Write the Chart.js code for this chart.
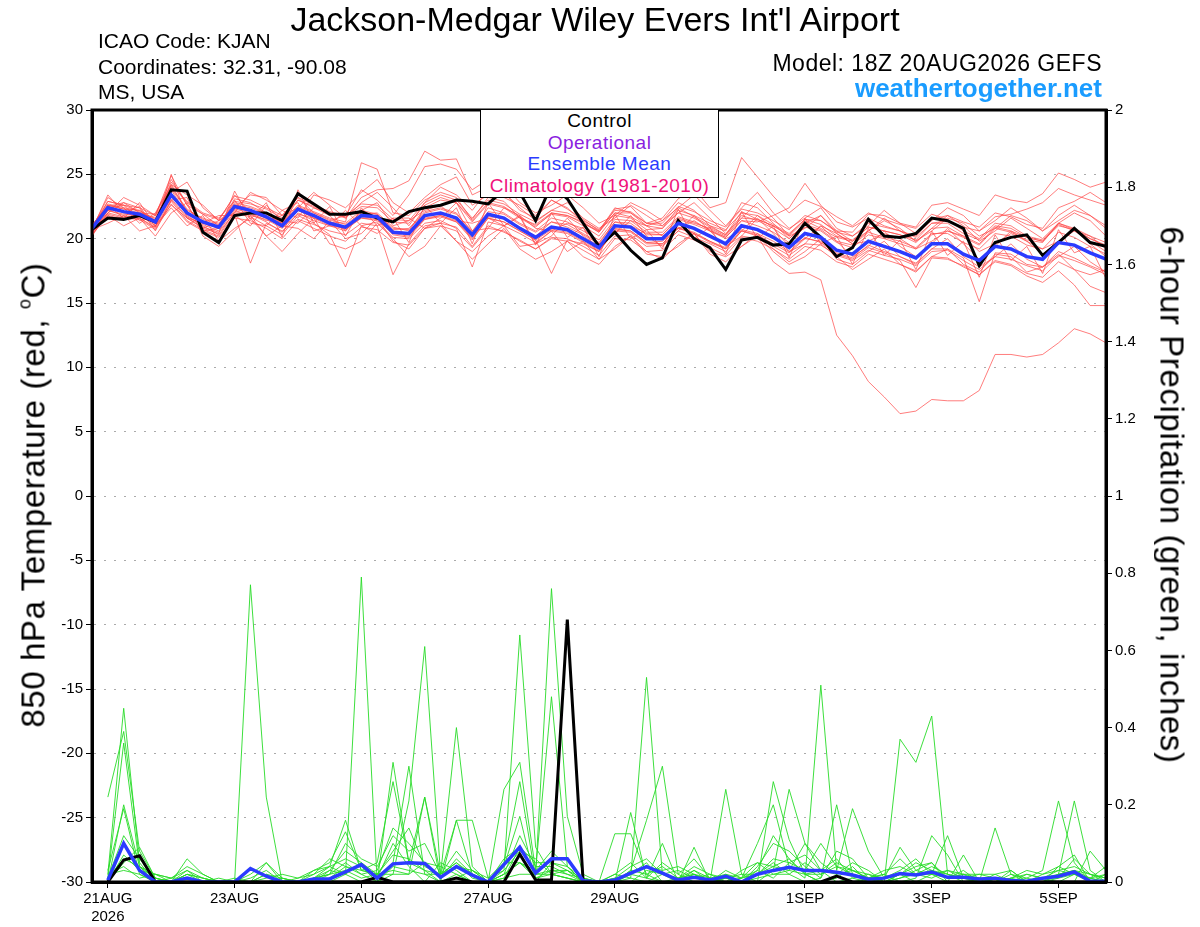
<!DOCTYPE html>
<html>
<head>
<meta charset="utf-8">
<script src="https://cdn.jsdelivr.net/npm/chart.js@4.4.0/dist/chart.umd.min.js"></script>
<style>
  body { margin: 0; background: #fff; font-family: "Liberation Sans", Arial, sans-serif; }
  #wrap { position: relative; width: 1200px; height: 927px; overflow: hidden; }
  #c { position: absolute; left: 0; top: 0; }
  .t { position: absolute; white-space: nowrap; color: #000; line-height: 1; }
  #title { left: 0; width: 1190px; top: 2px; text-align: center; font-size: 34px; }
  .info { left: 98px; font-size: 21px; }
  .rinfo { right: 98px; text-align: right; }
  #legend { position: absolute; left: 480px; top: 109px; width: 237px; height: 87px;
            background: #fff; border: 1.5px solid #000; text-align: center;
            font-size: 19px; line-height: 21.5px; letter-spacing: 0.5px; }
  .ytitle { position: absolute; white-space: nowrap; font-size: 33px; line-height: 1; letter-spacing: 0.6px; }
  .ytitle sup { font-size: 18px; vertical-align: 14px; line-height: 0; }
</style>
</head>
<body>
<div id="wrap">
  <canvas id="c" width="1200" height="927"></canvas>
  <div class="t" id="title">Jackson-Medgar Wiley Evers Int'l Airport</div>
  <div class="t info" style="top:30px">ICAO Code: KJAN</div>
  <div class="t info" style="top:56px">Coordinates: 32.31, -90.08</div>
  <div class="t info" style="top:81px">MS, USA</div>
  <div class="t rinfo" style="top:52px;font-size:23px;letter-spacing:0.5px">Model: 18Z 20AUG2026 GEFS</div>
  <div class="t rinfo" style="top:75px;font-size:26px;font-weight:bold;color:#1a9cff">weathertogether.net</div>
  <div id="legend">
    <div style="color:#000">Control</div>
    <div style="color:#8a1ee0">Operational</div>
    <div style="color:#2b3bff">Ensemble Mean</div>
    <div style="color:#f0127a">Climatology (1981-2010)</div>
  </div>
  <div class="ytitle" style="left:33px;top:495px;transform:translate(-50%,-50%) rotate(-90deg)">850 hPa Temperature (red, <sup>o</sup>C)</div>
  <div class="ytitle" style="left:1172px;top:495px;transform:translate(-50%,-50%) rotate(90deg)">6-hour Precipitation (green, inches)</div>
</div>
<script>
// forecast hours from 18Z 20AUG2026, one value every 6 h
const tickHours = [6, 54, 102, 150, 198, 270, 318, 366];
const tickLabels = ['21AUG', '23AUG', '25AUG', '27AUG', '29AUG', '1SEP', '3SEP', '5SEP'];

// 850 hPa temperature (C)
const tempControl = [20.7, 21.6, 21.5, 21.8, 21.3, 23.8, 23.7, 20.5, 19.7, 21.8, 22.0, 22.0, 21.4,
  23.5, 22.7, 21.9, 21.9, 22.1, 21.6, 21.3, 22.1, 22.4, 22.6, 23.0, 22.9, 22.7, 23.8, 23.6, 21.4,
  24.2, 23.1, 21.2, 19.4, 20.5, 19.1, 18.0, 18.5, 21.4, 20.0, 19.3, 17.6, 19.9, 20.1, 19.5, 19.6,
  21.2, 20.1, 18.6, 19.3, 21.5, 20.2, 20.1, 20.4, 21.6, 21.4, 20.8, 17.9, 19.7, 20.1, 20.3, 18.7,
  19.7, 20.8, 19.7, 19.4];
const tempMean = [20.8, 22.4, 22.1, 21.9, 21.3, 23.4, 22.0, 21.3, 20.9, 22.5, 22.2, 21.7, 21.0,
  22.3, 21.8, 21.2, 20.9, 21.8, 21.7, 20.5, 20.4, 21.8, 22.0, 21.6, 20.3, 21.9, 21.6, 20.8, 20.1,
  20.9, 20.7, 20.0, 19.3, 21.0, 20.9, 20.0, 20.0, 21.2, 20.8, 20.2, 19.6, 21.0, 20.7, 20.1, 19.3,
  20.4, 20.1, 19.1, 18.8, 19.8, 19.4, 19.0, 18.5, 19.6, 19.6, 18.8, 18.3, 19.4, 19.2, 18.6, 18.4,
  19.7, 19.5, 18.9, 18.4];
const tempMembers = [
  [20.7, 22.9, 22.6, 22.1, 21.4, 24.4, 22.8, 21.9, 21.0, 23.1, 22.8, 22.0, 21.2, 23.0, 22.4, 22.0, 21.6,
   23.2, 23.8, 23.9, 24.5, 26.8, 26.1, 26.2, 23.4, 24.0, 23.2, 22.6, 21.8, 23.0, 22.3, 21.5, 20.6, 22.0,
   21.7, 21.0, 20.8, 22.4, 21.7, 21.0, 20.3, 22.1, 21.5, 21.0, 20.2, 21.4, 20.8, 20.1, 19.8, 20.9, 20.6,
   20.3, 19.7, 20.8, 20.9, 20.2, 19.6, 20.9, 20.6, 20.1, 19.8, 21.0, 20.7, 20.0, 19.5],
  [20.4, 22.2, 21.8, 21.6, 20.9, 23.8, 21.8, 21.0, 20.3, 22.1, 21.9, 21.3, 20.5, 22.0, 21.4, 21.0, 20.6,
   21.9, 22.0, 20.9, 20.6, 22.4, 23.0, 22.8, 21.5, 23.2, 22.9, 21.6, 20.9, 22.0, 21.8, 21.3, 20.5, 22.3,
   22.5, 21.2, 21.6, 23.1, 23.9, 22.4, 22.8, 26.3, 24.8, 23.3, 22.0, 23.0, 22.5, 21.7, 21.0, 22.0, 21.5,
   21.1, 20.8, 21.9, 21.5, 20.6, 20.0, 21.2, 21.0, 20.2, 19.9, 21.1, 20.6, 19.8, 19.0],
  [20.6, 22.5, 22.0, 21.7, 21.2, 23.1, 21.7, 21.1, 20.6, 22.2, 21.8, 21.5, 20.8, 21.9, 21.6, 21.2, 20.7,
   21.6, 21.4, 20.6, 20.3, 21.5, 21.7, 21.3, 20.1, 21.7, 21.6, 20.9, 20.2, 21.3, 20.9, 20.3, 19.6, 21.3,
   21.0, 20.4, 20.3, 21.6, 21.2, 20.8, 20.2, 21.6, 21.5, 21.0, 20.3, 21.5, 21.4, 20.6, 20.5, 21.9, 21.8,
   21.2, 20.9, 22.6, 22.8, 22.3, 21.8, 23.4, 23.0, 22.8, 23.5, 25.1, 24.6, 24.0, 24.4],
  [20.3, 21.8, 21.5, 21.6, 20.8, 22.9, 21.4, 20.7, 20.2, 21.9, 18.1, 21.2, 20.6, 21.5, 21.1, 20.6, 20.3,
   21.2, 21.0, 17.2, 19.6, 21.0, 21.2, 20.9, 19.4, 21.0, 20.5, 19.9, 19.2, 20.1, 20.0, 19.4, 18.7, 20.2,
   20.3, 19.4, 19.5, 20.6, 20.1, 19.6, 19.0, 20.2, 20.0, 19.4, 18.7, 19.6, 19.5, 18.7, 18.3, 19.1, 18.7,
   18.4, 17.9, 19.0, 19.1, 18.3, 17.6, 18.6, 18.4, 17.9, 17.5, 18.7, 18.3, 17.8, 17.2],
  [20.5, 22.0, 21.7, 21.8, 21.0, 22.6, 21.6, 20.9, 20.5, 22.0, 21.7, 21.0, 20.3, 21.8, 21.2, 20.3, 17.8,
   21.0, 21.3, 20.1, 20.0, 21.2, 21.4, 20.8, 17.8, 21.3, 21.0, 20.4, 19.7, 20.6, 20.4, 19.7, 19.0, 20.7,
   20.6, 19.7, 19.8, 20.8, 20.5, 19.8, 19.2, 20.6, 20.3, 19.6, 18.9, 20.0, 19.8, 18.9, 18.5, 19.5, 19.0,
   18.6, 18.1, 19.2, 19.2, 18.5, 15.1, 18.9, 18.8, 18.0, 17.8, 19.0, 18.5, 17.9, 17.4],
  [20.6, 22.3, 22.1, 21.9, 21.3, 23.5, 22.0, 21.3, 20.8, 22.4, 22.1, 21.6, 21.0, 22.2, 21.7, 21.1, 20.8,
   21.7, 21.6, 20.4, 20.2, 21.6, 21.8, 21.4, 20.0, 21.6, 21.3, 20.6, 19.9, 17.3, 19.9, 19.6, 19.0, 20.6,
   20.5, 19.6, 19.6, 20.9, 20.4, 19.8, 19.3, 20.7, 20.4, 19.8, 19.0, 20.1, 19.7, 18.8, 18.4, 19.3, 18.9,
   18.3, 16.2, 18.5, 18.4, 17.9, 17.2, 18.3, 18.0, 17.3, 17.0, 18.2, 17.6, 16.3, 15.8],
  [20.8, 22.6, 22.3, 22.0, 21.6, 24.0, 22.3, 21.5, 21.1, 22.8, 22.5, 22.0, 21.3, 22.6, 22.1, 21.6, 21.3,
   25.9, 25.4, 22.0, 21.8, 23.0, 23.6, 23.2, 21.4, 22.8, 22.5, 21.7, 21.0, 21.9, 21.7, 21.0, 20.2, 21.8,
   21.6, 20.7, 20.8, 22.0, 21.6, 20.9, 20.3, 21.8, 21.4, 20.8, 20.0, 21.1, 20.7, 19.8, 19.5, 20.5, 20.1,
   19.8, 19.3, 20.4, 20.4, 19.7, 19.2, 20.4, 20.2, 19.5, 19.2, 20.5, 20.1, 19.4, 18.8],
  [21.0, 22.7, 22.4, 22.2, 21.5, 23.9, 22.2, 21.6, 21.2, 22.6, 22.4, 21.9, 21.2, 22.5, 22.0, 21.5, 21.1,
   22.0, 21.9, 20.8, 20.7, 22.0, 22.3, 21.9, 20.6, 22.1, 21.9, 21.1, 20.5, 21.3, 21.1, 20.4, 19.7, 21.3,
   21.2, 20.3, 20.3, 21.5, 21.1, 20.6, 20.1, 21.4, 21.3, 21.8, 22.4, 24.3, 22.6, 21.3, 20.9, 21.6, 21.0,
   20.6, 20.1, 21.2, 21.2, 20.4, 19.9, 21.0, 20.8, 20.1, 19.8, 21.2, 20.8, 20.2, 19.7],
  [20.4, 21.8, 21.0, 21.6, 20.2, 22.0, 22.8, 20.2, 19.4, 20.6, 21.8, 20.2, 19.0, 20.4, 21.6, 19.6, 19.2,
   19.8, 21.2, 20.0, 18.6, 19.4, 21.0, 19.8, 18.4, 19.6, 20.8, 19.2, 18.4, 19.0, 19.8, 18.6, 18.0, 19.4,
   20.2, 19.0, 18.4, 19.6, 20.4, 18.8, 18.2, 19.4, 20.2, 19.0, 18.0, 18.6, 19.6, 18.6, 17.6, 18.4, 19.2,
   18.0, 17.4, 18.6, 19.2, 18.0, 17.4, 18.8, 18.6, 17.4, 17.8, 18.8, 17.6, 17.2, 17.6],
  [20.9, 22.9, 22.6, 22.4, 21.8, 24.9, 22.6, 21.9, 21.5, 23.3, 23.0, 22.4, 21.8, 23.2, 22.6, 22.1, 21.8,
   22.7, 22.6, 21.5, 21.4, 22.8, 23.4, 23.0, 21.6, 23.0, 22.7, 21.9, 21.3, 22.2, 22.0, 21.4, 20.7, 22.2,
   22.1, 21.2, 21.2, 22.5, 22.1, 21.4, 20.9, 22.3, 22.0, 21.4, 20.7, 21.8, 21.4, 20.5, 20.2, 21.2, 20.9,
   20.6, 20.2, 21.5, 21.8, 21.3, 20.9, 22.0, 21.7, 21.1, 20.8, 22.4, 22.9, 23.6, 22.8],
  [20.8, 23.2, 22.4, 21.2, 22.0, 24.2, 23.4, 22.6, 21.4, 22.0, 23.6, 23.0, 22.2, 21.6, 23.4, 23.0, 22.4,
   23.6, 24.6, 22.8, 22.0, 23.2, 24.2, 24.8, 22.6, 23.4, 24.2, 22.8, 22.0, 22.6, 23.4, 22.4, 21.2, 21.8,
   22.8, 22.2, 21.4, 22.4, 23.4, 22.2, 21.0, 22.4, 23.6, 22.0, 20.8, 21.6, 22.4, 20.8, 20.2, 21.0, 22.2,
   21.2, 20.4, 21.4, 22.4, 21.8, 20.6, 21.4, 22.4, 21.6, 20.6, 21.8, 22.6, 21.8, 20.8],
  [20.7, 23.4, 22.0, 22.5, 20.9, 25.0, 21.6, 20.8, 20.4, 23.7, 21.5, 22.8, 20.1, 23.8, 21.2, 22.5, 20.2,
   22.4, 21.0, 21.6, 19.7, 22.6, 21.2, 22.4, 19.6, 22.8, 21.0, 21.7, 19.5, 22.0, 20.1, 20.9, 18.6, 21.9,
   20.0, 20.7, 19.2, 22.3, 20.0, 20.9, 18.8, 22.1, 20.0, 21.0, 18.5, 21.6, 19.6, 20.2, 18.0, 20.8, 18.7,
   19.9, 17.6, 20.6, 18.7, 19.8, 17.0, 20.3, 18.3, 19.4, 17.3, 20.7, 18.9, 19.4, 16.9],
  [20.6, 22.0, 22.8, 22.4, 20.6, 23.0, 23.2, 20.6, 20.8, 23.0, 21.2, 21.0, 22.2, 22.8, 20.6, 21.0, 22.2,
   21.0, 20.4, 21.6, 21.6, 20.8, 21.6, 22.8, 20.6, 20.8, 22.4, 21.8, 19.6, 20.2, 21.6, 20.2, 19.4, 20.4,
   21.8, 20.2, 19.4, 20.6, 21.8, 20.6, 19.4, 20.2, 21.6, 20.4, 19.0, 19.6, 21.0, 19.8, 18.6, 19.4, 20.6,
   19.4, 18.6, 19.6, 20.8, 19.6, 18.4, 19.4, 20.6, 19.8, 18.8, 19.8, 20.8, 19.6, 18.6],
  [20.3, 21.9, 21.6, 21.5, 20.7, 22.7, 21.3, 20.6, 20.1, 21.6, 21.4, 20.8, 20.0, 21.4, 20.8, 20.2, 19.8,
   20.9, 20.7, 19.7, 19.5, 20.8, 21.0, 20.6, 19.3, 20.8, 20.6, 19.8, 19.2, 20.0, 19.8, 19.1, 18.4, 20.0,
   19.9, 19.0, 19.1, 20.3, 19.9, 19.3, 18.7, 20.1, 19.8, 19.2, 18.4, 19.4, 19.1, 18.2, 17.8, 18.8, 18.4,
   18.0, 17.5, 18.6, 18.5, 17.8, 17.2, 18.2, 17.9, 17.1, 16.6, 17.5, 16.4, 14.8, 14.8],
  [20.8, 22.6, 22.3, 22.2, 21.4, 24.2, 22.1, 21.2, 20.9, 22.7, 22.2, 21.7, 21.2, 22.3, 21.8, 21.3, 21.2,
   22.2, 21.9, 20.7, 20.8, 22.1, 22.4, 22.0, 20.5, 22.4, 22.0, 21.2, 20.6, 21.6, 21.3, 20.6, 19.9, 21.5,
   21.4, 20.5, 20.5, 21.7, 21.3, 20.7, 20.1, 21.4, 21.0, 20.5, 19.7, 20.9, 20.6, 19.7, 19.3, 20.3, 20.0,
   19.6, 19.2, 20.3, 20.6, 20.1, 19.5, 20.8, 20.5, 19.9, 19.7, 21.2, 20.7, 20.0, 19.4],
  [20.2, 22.0, 23.2, 22.6, 21.8, 23.6, 24.4, 22.4, 21.4, 22.4, 23.4, 23.2, 21.8, 22.4, 23.6, 22.6, 21.6,
   22.8, 23.6, 22.4, 21.0, 22.8, 24.0, 23.4, 22.2, 23.8, 23.6, 22.4, 21.4, 22.2, 22.8, 21.6, 20.8, 21.6,
   22.6, 21.8, 21.0, 22.0, 22.8, 21.6, 20.4, 21.6, 22.8, 21.6, 20.2, 20.8, 21.8, 20.4, 19.6, 20.6, 21.6,
   20.6, 19.8, 20.8, 21.8, 21.0, 19.8, 20.6, 21.6, 20.8, 20.0, 21.2, 22.0, 21.4, 20.2],
  [20.5, 22.2, 21.9, 21.8, 21.2, 23.3, 21.9, 21.2, 20.8, 22.3, 22.0, 21.6, 20.9, 22.2, 21.6, 21.0, 20.8,
   21.6, 21.5, 20.3, 20.1, 21.5, 21.8, 21.3, 19.9, 21.6, 21.3, 20.6, 19.9, 20.7, 20.5, 19.8, 19.1, 20.8,
   20.6, 19.7, 19.6, 20.8, 20.4, 19.7, 19.2, 20.6, 20.2, 18.2, 17.3, 17.4, 16.8, 12.5, 10.9, 8.9, 7.7,
   6.4, 6.6, 7.5, 7.4, 7.4, 8.2, 11.0, 11.0, 10.8, 11.0, 11.9, 13.0, 12.6, 11.9],
  [20.7, 21.2, 21.8, 20.6, 21.0, 22.4, 21.0, 21.8, 19.8, 20.8, 21.6, 20.2, 21.0, 20.8, 20.0, 21.4, 20.0,
   20.4, 21.6, 19.8, 19.2, 20.8, 21.2, 19.8, 19.0, 20.2, 21.0, 19.4, 19.6, 20.6, 19.0, 19.8, 18.4, 19.2,
   20.2, 18.8, 18.6, 19.4, 20.4, 19.0, 18.6, 19.4, 20.4, 19.2, 18.2, 19.0, 20.0, 18.4, 18.0, 19.0, 19.8,
   18.6, 18.0, 19.2, 20.0, 18.6, 17.8, 18.6, 19.6, 18.4, 17.8, 18.6, 19.4, 18.2, 17.4],
  [21.1, 22.5, 22.8, 22.0, 21.9, 24.1, 22.9, 22.0, 21.6, 22.9, 22.7, 22.3, 21.6, 23.0, 22.5, 22.0, 21.7,
   22.5, 22.4, 21.3, 21.2, 22.6, 23.2, 22.8, 21.3, 22.7, 22.4, 21.6, 21.1, 22.0, 21.8, 21.2, 20.5, 22.0,
   22.0, 21.2, 21.0, 22.2, 21.8, 21.2, 20.7, 22.0, 21.8, 21.1, 20.4, 21.5, 21.1, 20.2, 19.9, 20.9, 20.6,
   20.3, 19.9, 21.2, 21.4, 20.9, 20.6, 21.7, 21.9, 22.3, 22.8, 23.9, 23.4, 23.0, 22.6],
  [20.9, 22.6, 21.6, 22.8, 21.0, 23.0, 21.6, 21.2, 21.8, 21.8, 21.0, 22.6, 21.4, 21.2, 22.4, 21.8, 20.6,
   22.2, 22.8, 21.0, 21.4, 22.2, 22.6, 21.4, 21.2, 21.6, 21.0, 21.8, 20.8, 20.6, 21.2, 20.8, 19.6, 20.4,
   21.4, 21.0, 20.2, 20.8, 21.4, 20.6, 20.0, 20.6, 21.8, 20.8, 19.4, 20.0, 21.0, 20.4, 19.6, 19.8, 20.4,
   20.0, 19.2, 19.8, 20.6, 20.2, 19.0, 19.6, 20.4, 19.8, 19.2, 19.8, 20.6, 20.2, 19.2],
  [20.6, 22.4, 22.6, 21.4, 21.8, 24.6, 22.6, 20.8, 21.4, 23.4, 22.0, 21.4, 21.8, 23.2, 22.0, 21.4, 21.8,
   23.8, 23.0, 21.8, 23.4, 25.6, 25.8, 25.4, 23.8, 24.6, 23.6, 22.2, 21.6, 23.0, 22.4, 21.2, 20.6, 22.4,
   22.0, 21.0, 21.4, 22.8, 22.2, 21.0, 20.6, 22.8, 22.4, 21.2, 20.0, 21.2, 21.8, 20.6, 19.8, 20.6, 21.4,
   20.8, 19.8, 20.6, 21.6, 21.2, 20.2, 20.8, 21.8, 21.4, 20.6, 21.4, 22.2, 21.8, 21.0]
];

// 6-hour precipitation (inches), first value at 00Z 21AUG
const precipControl = [null, 0, 0.057, 0.068, 0, 0, 0, 0, 0, 0, 0, 0, 0, 0, 0, 0, 0, 0, 0.012, 0, 0,
  0, 0, 0.01, 0, 0, 0, 0.072, 0.005, 0.005, 0.68, 0, 0, 0, 0, 0, 0, 0, 0, 0, 0, 0, 0, 0, 0, 0, 0,
  0.015, 0, 0, 0, 0, 0, 0, 0, 0, 0, 0, 0, 0, 0, 0, 0, 0, 0];
const precipMean = [null, 0.005, 0.1, 0.03, 0, 0, 0.01, 0, 0, 0, 0.035, 0.015, 0, 0, 0.008, 0.008,
  0.026, 0.045, 0.01, 0.047, 0.05, 0.048, 0.012, 0.04, 0.018, 0, 0.045, 0.09, 0.023, 0.06, 0.06,
  0.003, 0, 0.005, 0.023, 0.04, 0.023, 0.005, 0.012, 0.005, 0.015, 0, 0.02, 0.03, 0.038, 0.03, 0.03,
  0.025, 0.018, 0.007, 0.01, 0.022, 0.018, 0.026, 0.012, 0.012, 0.008, 0.01, 0.004, 0.002, 0.01,
  0.015, 0.026, 0.002, 0.002];
const precipMembers = [
  [null, .02, .45, .05, 0, 0, .01, 0, 0, 0, 0, 0, 0, 0, 0, .02, .05, .02, 0, .31, .05, .03, 0, .02, 0,
   0, .03, .64, .09, .02, .01, 0, 0, 0, .01, .53, .02, 0, .03, 0, 0, 0, .02, .05, .02, 0, .01, .2, .02,
   0, 0, .01, .03, .05, 0, 0, 0, 0, 0, 0, 0, .02, .21, .03, 0],
  [null, .22, .39, .08, .01, 0, .06, .02, 0, 0, .77, .22, 0, 0, 0, 0, .02, 0, 0, .05, .3, .02, 0, .01, .03,
   0, .02, .05, .02, .76, .17, .02, 0, .02, .05, .01, 0, 0, 0, 0, .01, 0, 0, .26, .11, .02, 0, 0, 0,
   .01, 0, .37, .31, .43, .02, 0, 0, .01, 0, 0, 0, .01, .02, 0, 0],
  [null, .01, .36, .04, 0, 0, .02, 0, 0, 0, 0, 0, 0, 0, .01, .04, .16, .03, .02, .02, .21, .61, .02, .4, .04,
   0, .24, .31, .03, .48, .04, 0, 0, .125, .125, .02, 0, 0, .09, 0, .24, .02, 0, .03, .24, .1, .03, 0, .01,
   0, 0, .02, 0, .02, .12, .01, 0, .14, .02, 0, 0, 0, 0, .08, .03],
  [null, 0, .05, .09, .01, 0, .03, .01, 0, 0, 0, .05, .01, 0, .03, .05, .13, .03, .05, .26, .05, .22, 0, .16, .16,
   .01, .05, .26, .01, .03, .02, 0, 0, 0, .03, .16, .3, .02, 0, 0, .03, .01, .1, .2, .04, .01, .51, .03, .19,
   .08, .01, .09, .03, .02, 0, .07, 0, 0, .03, 0, .02, .04, .07, 0, 0],
  [null, 0, .1, .03, .02, 0, .01, 0, 0, 0, .02, .05, 0, 0, .01, .02, .03, .01, .02, .03, .02, .22, .02, .16, .02,
   0, .01, .09, .02, .03, .03, 0, 0, 0, 0, .03, .02, .01, .02, 0, .02, 0, .01, .02, .03, .1, .05, .02, .03,
   .01, .02, 0, .01, .12, .07, 0, .01, 0, 0, .01, .03, .21, .05, 0, .02],
  [null, .03, .19, .02, 0, 0, 0, 0, 0, 0, 0, 0, 0, .01, .02, .04, .02, .79, 0, .02, .02, .05, .04, .02, 0,
   0, .02, .05, .01, .02, .03, .01, 0, .01, .02, .05, 0, .01, .02, .01, 0, .03, .05, .02, .02, .05, .02, .05, .03,
   .02, 0, .01, .02, .03, .02, .01, 0, .02, .03, 0, .01, .03, .02, .01, 0],
  [null, .01, .06, .04, .01, 0, .02, .01, 0, 0, 0, .02, 0, 0, 0, .03, .02, .05, .01, .1, .04, 0, .05, .03, 0,
   0, .04, .17, 0, .05, .04, 0, 0, 0, .18, .01, .1, 0, .02, 0, .01, 0, .03, .01, .05, .03, .1, .04, .02,
   .01, .03, .04, .02, .01, .03, .02, 0, 0, .01, 0, 0, .02, .03, .02, .01],
  [null, .02, .04, .01, .02, .01, .04, .02, 0, 0, 0, .01, .02, .01, .03, .04, .06, .04, 0, .04, .03, .02, .02, .04, .03,
   0, .01, .02, .02, .02, .01, 0, 0, .02, .01, 0, .02, .03, .01, .02, 0, .01, .02, .04, .06, .02, 0, .01, .04,
   0, .01, .02, .05, .03, .01, .02, .02, .01, 0, .02, .01, 0, .02, .01, 0],
  [null, .01, .12, .06, .01, 0, 0, 0, 0, 0, 0, 0, 0, 0, 0, .01, .04, .02, .03, .14, .1, .05, .01, .06, .02,
   0, .06, .09, .05, .05, .03, 0, 0, 0, .02, .01, .05, .02, .06, .01, 0, .01, .03, .12, .06, .02, .03, .06, .01,
   .02, .01, .03, .06, .02, .01, .03, 0, 0, .02, .01, 0, .04, .02, .01, .04],
  [null, 0, .2, .04, .02, .01, .03, 0, .01, 0, .01, .03, 0, 0, .02, .06, .04, .03, .02, .07, .06, .03, .02, .05, .01,
   0, .02, .12, .04, .04, .02, .01, 0, 0, .02, .04, .03, .04, .02, 0, .01, .02, .02, .06, .05, .07, .03, .02, .05,
   .03, 0, .02, .04, .05, .01, .02, .01, 0, .01, .03, .02, .03, .04, .02, 0],
  [null, .02, .03, .02, 0, 0, .02, .01, 0, .01, 0, .02, .01, 0, .01, .02, .1, .06, .04, .12, .08, .1, .02, .08, .03,
   .01, .03, .08, .06, .02, .01, 0, 0, .01, .04, .06, .02, .01, .04, .02, .01, 0, .04, .1, .08, .04, .01, .08, .06,
   .01, .02, .06, .02, .02, .03, .01, .02, .02, 0, 0, .01, .01, .06, .02, .01],
  [null, 0, .07, .03, 0, .01, .01, 0, 0, 0, 0, 0, .01, 0, .01, .03, .08, .05, .02, .08, .14, .04, .02, .05, .02,
   0, .05, .05, .03, .08, .04, .01, 0, 0, .03, .02, .04, .01, .03, .01, .02, .01, .05, .04, .03, .02, .02, .04, .03,
   .01, .01, .02, .02, .04, .02, .01, .01, 0, .01, .02, .01, .02, .03, .01, .02]
];

function toPoints(values) {
  return values.map((v, i) => ({ x: i * 6, y: v }));
}

const datasets = [
  { data: toPoints(tempMean), yAxisID: 'y', borderColor: '#2b3bff', borderWidth: 3.5, order: 0 },
  { data: toPoints(precipMean), yAxisID: 'y2', borderColor: '#2b3bff', borderWidth: 3.5, order: 0 },
  { data: toPoints(tempControl), yAxisID: 'y', borderColor: '#000', borderWidth: 3, order: 1 },
  { data: toPoints(precipControl), yAxisID: 'y2', borderColor: '#000', borderWidth: 3, order: 1 }
];
precipMembers.forEach(m => datasets.push({
  data: toPoints(m), yAxisID: 'y2', borderColor: 'rgba(40,220,40,0.9)', borderWidth: 1, order: 2
}));
tempMembers.forEach(m => datasets.push({
  data: toPoints(m), yAxisID: 'y', borderColor: 'rgba(255,70,70,0.7)', borderWidth: 1, order: 3
}));

const frame = {
  id: 'frame',
  afterDatasetsDraw(chart) {
    const { ctx, chartArea: a } = chart;
    ctx.save();
    ctx.lineWidth = 3;
    ctx.strokeStyle = '#000';
    ctx.strokeRect(a.left, a.top, a.right - a.left, a.bottom - a.top);
    ctx.restore();
  }
};

Chart.defaults.font.family = '"Liberation Sans", Arial, sans-serif';
Chart.defaults.color = '#000';

new Chart(document.getElementById('c'), {
  type: 'line',
  data: { datasets: datasets },
  plugins: [frame],
  options: {
    responsive: false,
    animation: false,
    events: [],
    layout: { padding: { top: 110, left: 0, right: 0, bottom: 0 } },
    elements: { point: { radius: 0 }, line: { tension: 0, fill: false } },
    plugins: { legend: { display: false }, tooltip: { enabled: false } },
    scales: {
      x: {
        type: 'linear',
        min: 0,
        max: 384,
        afterBuildTicks: axis => { axis.ticks = tickHours.map(v => ({ value: v })); },
        afterFit: axis => { axis.height = 45; },
        ticks: {
          autoSkip: false,
          maxRotation: 0,
          padding: 2,
          font: { size: 15 },
          callback: v => {
            const k = tickHours.indexOf(v);
            return k === 0 ? [tickLabels[0], '2026'] : tickLabels[k];
          }
        },
        grid: { drawOnChartArea: false, tickLength: 6, tickColor: '#000', tickWidth: 1 },
        border: { color: '#000', width: 3 }
      },
      y: {
        position: 'left',
        min: -30,
        max: 30,
        afterFit: axis => { axis.width = 92; },
        ticks: { stepSize: 5, padding: 3, font: { size: 15 } },
        grid: { color: '#aaa', lineWidth: 1, tickLength: 6, tickColor: '#000', tickWidth: 1, tickBorderDash: [] },
        border: { color: '#000', width: 3, dash: [2, 8] }
      },
      y2: {
        position: 'right',
        min: 0,
        max: 2,
        afterFit: axis => { axis.width = 94; },
        ticks: { stepSize: 0.2, padding: 3, font: { size: 15 }, callback: v => String(Math.round(v * 10) / 10) },
        grid: { drawOnChartArea: false, tickLength: 6, tickColor: '#000', tickWidth: 1 },
        border: { color: '#000', width: 3 }
      }
    }
  }
});
</script>
</body>
</html>
